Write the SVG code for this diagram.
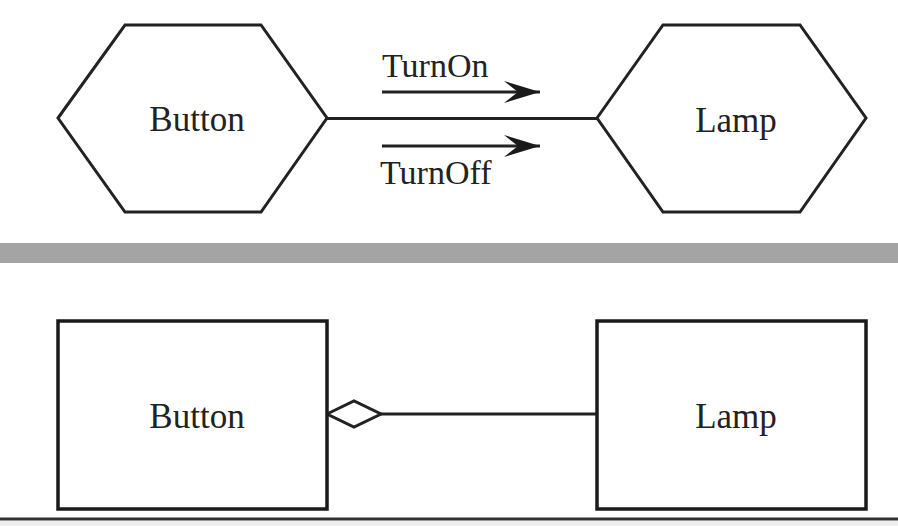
<svg xmlns="http://www.w3.org/2000/svg" width="898" height="526" viewBox="0 0 898 526">
<style>
.shape{fill:#fff;stroke:#222;stroke-width:3;stroke-linejoin:miter}
.box{fill:#fff;stroke:#1a1a1a;stroke-width:3.5}
.line{fill:none;stroke:#222;stroke-width:3}
.lbl{font-family:"Liberation Serif","Times New Roman",serif;font-size:34px;fill:#222}
.name{font-family:"Liberation Serif","Times New Roman",serif;font-size:35px;fill:#222;text-anchor:middle}
</style>
<defs>
<marker id="barb" markerUnits="userSpaceOnUse" markerWidth="40" markerHeight="24" refX="36" refY="12" orient="auto">
<path d="M36,12 L0,1 L14,12 L0,23 Z" fill="#1a1a1a"/>
</marker>
</defs>
<rect x="0" y="0" width="898" height="526" fill="#fff"/>
<rect x="0" y="243" width="898" height="20" fill="#a4a4a4"/>
<rect x="0" y="521" width="898" height="5" fill="#eeeeee"/>
<line x1="0" y1="519" x2="898" y2="519" stroke="#333" stroke-width="3"/>
<g id="connectors">
<line class="line" x1="327" y1="118.5" x2="597" y2="118.5"/>
<line class="line" x1="382" y1="92" x2="540" y2="92" marker-end="url(#barb)"/>
<line class="line" x1="382" y1="146" x2="540" y2="146" marker-end="url(#barb)"/>
<text class="lbl" x="382" y="77">TurnOn</text>
<text class="lbl" x="380" y="184">TurnOff</text>
<line class="line" x1="380" y1="414" x2="597" y2="414"/>
<path class="shape" d="M327,414 L354,401 L381,414 L354,427 Z" stroke-width="2.5"/>
</g>
<g id="button-hex">
<polygon class="shape" points="58,118 125,25 261,25 327,118 261,212 125,212"/>
<text class="name" x="197" y="131">Button</text>
</g>
<g id="lamp-hex">
<polygon class="shape" points="597,118 663,25 800,25 866,118 800,212 663,212"/>
<text class="name" x="736" y="132">Lamp</text>
</g>
<g id="button-box">
<rect class="box" x="58" y="321" width="269" height="188"/>
<text class="name" x="197" y="428">Button</text>
</g>
<g id="lamp-box">
<rect class="box" x="597" y="321" width="269" height="188"/>
<text class="name" x="736" y="428">Lamp</text>
</g>
</svg>
